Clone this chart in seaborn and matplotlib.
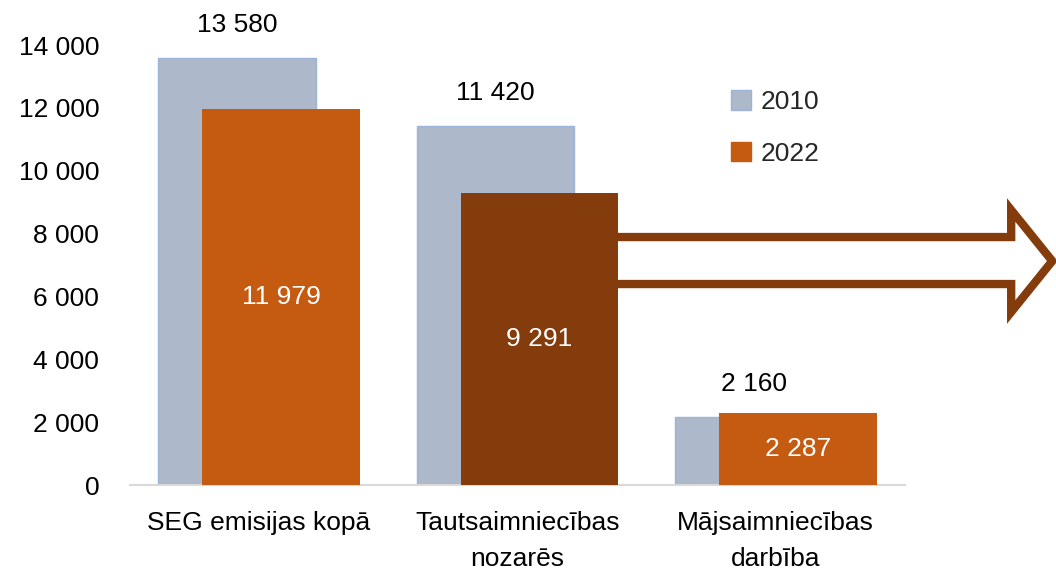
import matplotlib
matplotlib.use("Agg")
import matplotlib.pyplot as plt
import seaborn as sns
from matplotlib.patches import Patch, Polygon
from matplotlib.ticker import FuncFormatter

# Dati
categories = ["SEG emisijas kopā", "Tautsaimniecības\nnozarēs", "Mājsaimniecības\ndarbība"]
values_2010 = [13580, 11420, 2160]
values_2022 = [11979, 9291, 2287]
series_names = ["2010", "2022"]

# Krāsas
c_2010 = "#ADB9CA"
c_2010_edge = "#9DB3DA"
c_2022 = "#C55A11"
c_dark = "#843C0C"
palette_2022 = [c_2022, c_dark, c_2022]

sns.set_style("white")
plt.rcParams["font.family"] = ["Liberation Sans", "DejaVu Sans"]


def fmt(v):
    return f"{int(v):,}".replace(",", " ")


fig, ax = plt.subplots(figsize=(10.56, 5.74), dpi=100)
fig.subplots_adjust(left=0.123, right=0.857, bottom=0.155, top=0.9216)

width = 0.61
shift = 0.085

sns.barplot(x=categories, y=values_2010, color=c_2010, width=width, saturation=1,
            edgecolor=c_2010_edge, linewidth=1, ax=ax, zorder=2)
n_first = len(ax.patches)
sns.barplot(x=categories, y=values_2022, hue=categories, palette=palette_2022,
            width=width, saturation=1, linewidth=0, legend=False, ax=ax, zorder=3)

bars_2010 = ax.patches[:n_first]
bars_2022 = ax.patches[n_first:]
for p in bars_2010:
    p.set_x(p.get_x() - shift)
for p in bars_2022:
    p.set_x(p.get_x() + shift)

# Vērtību etiķetes
for p, v in zip(bars_2010, values_2010):
    ax.annotate(fmt(v), (p.get_x() + p.get_width() / 2, v),
                xytext=(0, 24), textcoords="offset points",
                ha="center", va="center", fontsize=19, color="black")
for p, v in zip(bars_2022, values_2022):
    ax.text(p.get_x() + p.get_width() / 2, v / 2, fmt(v),
            ha="center", va="center", fontsize=19, color="white", zorder=4)

# Bulta no vidējā stabiņa
mid = bars_2022[1]
x0 = mid.get_x() + mid.get_width() - 0.02
arrow = Polygon([(x0, 7890), (2.911, 7890), (2.911, 8750), (3.07, 7127),
                 (2.911, 5505), (2.911, 6395), (x0, 6395)],
                closed=True, facecolor="white", edgecolor=c_dark,
                linewidth=6, joinstyle="miter", clip_on=False, zorder=1)
ax.add_patch(arrow)

ax.set_xlim(-0.5, 2.5)
ax.set_ylim(0, 14000)
ax.set_yticks(range(0, 14001, 2000))
ax.yaxis.set_major_formatter(FuncFormatter(lambda v, _: fmt(v)))
ax.tick_params(axis="y", length=0, pad=22, labelsize=19, labelcolor="black")
ax.tick_params(axis="x", length=0, pad=19, labelcolor="black")
for lbl in ax.get_xticklabels():
    lbl.set_fontsize(19)
    lbl.set_linespacing(1.6)
    lbl.set_verticalalignment("top")

for s in ["left", "right", "top"]:
    ax.spines[s].set_visible(False)
ax.spines["bottom"].set_color("#D9D9D9")
ax.spines["bottom"].set_linewidth(1.5)
ax.set_xlabel("")
ax.set_ylabel("")

handles = [Patch(facecolor=c_2010, edgecolor=c_2010_edge, linewidth=1),
           Patch(facecolor=c_2022, edgecolor=c_2022)]
fig.legend(handles, series_names, loc="center left",
           bbox_to_anchor=(718 / 1056, 1 - 128 / 574), frameon=False,
           fontsize=19, handlelength=0.75, handleheight=0.75,
           handletextpad=0.35, labelspacing=1.05, borderpad=0)

fig.savefig("out.png", dpi=100)
